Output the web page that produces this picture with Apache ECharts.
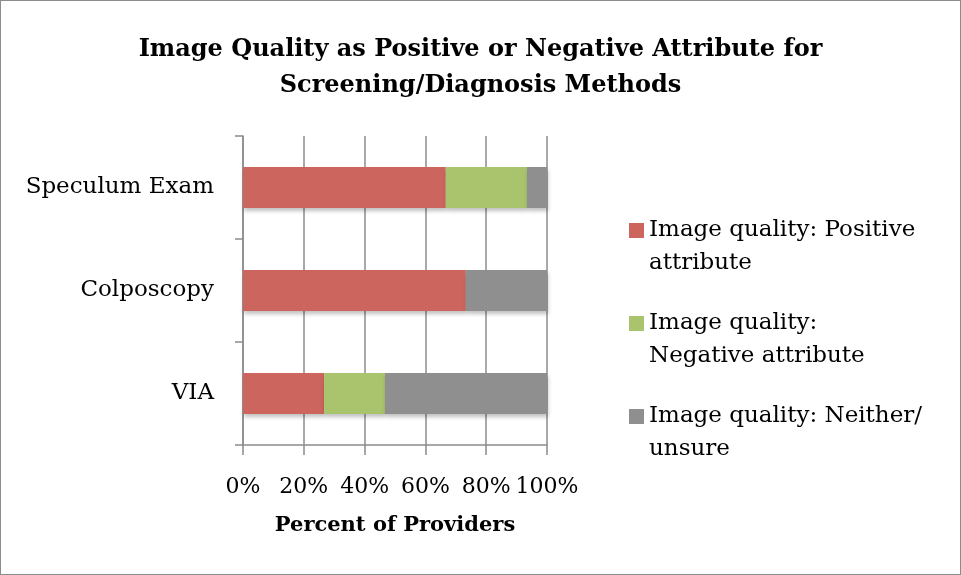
<!DOCTYPE html>
<html>
<head>
<meta charset="utf-8">
<script src="https://cdn.jsdelivr.net/npm/echarts@6/dist/echarts.min.js"></script>
<style>
  html, body { margin: 0; padding: 0; background: #fff; }
  #chart { width: 959px; height: 573px; border: 1px solid #8c8c8c; }
</style>
</head>
<body>
<div id="chart"></div>
<script>
// methods, top to bottom
var methods = ['Speculum Exam', 'Colposcopy', 'VIA'];
var seriesNames = [
  'Image quality: Positive\nattribute',
  'Image quality:\nNegative attribute',
  'Image quality: Neither/\nunsure'
];
// percent of providers
var positive = [66.7, 73.3, 26.7];
var negative = [26.7, 0, 20.0];
var neither = [6.6, 26.7, 53.3];
var xTicks = [0, 20, 40, 60, 80, 100];

var font = 'DejaVu Serif';
var colors = ['#cd655f', '#a9c46c', '#8f8f8f'];
var lineH = 33;

var myChart = echarts.init(document.getElementById('chart'));

function bar(name, data, i) {
  return {
    name: name,
    type: 'bar',
    stack: 'total',
    barCategoryGap: '60%',
    data: data,
    itemStyle: {
      color: colors[i],
      shadowColor: 'rgba(0,0,0,0.25)',
      shadowBlur: 4,
      shadowOffsetX: 1,
      shadowOffsetY: 3
    }
  };
}

myChart.setOption({
  animation: false,
  title: {
    text: 'Image Quality as Positive or Negative Attribute for\nScreening/Diagnosis Methods',
    left: 'center',
    top: 26,
    textStyle: {
      fontFamily: font,
      fontWeight: 'bold',
      fontSize: 24,
      lineHeight: 36,
      color: '#000'
    }
  },
  legend: {
    orient: 'vertical',
    left: 623,
    top: 175,
    icon: 'rect',
    itemWidth: 15,
    itemHeight: 15,
    itemGap: -6,
    textStyle: {
      fontFamily: font,
      fontSize: 23,
      lineHeight: lineH,
      color: '#000'
    },
    // blank first line keeps the square level with the first text line
    formatter: function (name) { return '\n' + name; },
    data: seriesNames
  },
  grid: {
    left: 242,
    right: 413,
    top: 135,
    bottom: 129
  },
  xAxis: {
    type: 'value',
    min: xTicks[0],
    max: xTicks[xTicks.length - 1],
    interval: 20,
    axisLine: { show: true, lineStyle: { color: '#8c8c8c', width: 1.5 } },
    axisTick: { show: true, length: 10, lineStyle: { color: '#8c8c8c', width: 1.5 } },
    splitLine: { show: true, lineStyle: { color: '#8c8c8c', width: 1.5 } },
    axisLabel: {
      formatter: '{value}%',
      margin: 31,
      fontFamily: font,
      fontSize: 22,
      color: '#000'
    },
    name: 'Percent of Providers',
    nameLocation: 'middle',
    nameGap: 70,
    nameTextStyle: {
      fontFamily: font,
      fontWeight: 'bold',
      fontSize: 21,
      color: '#000'
    }
  },
  yAxis: {
    type: 'category',
    inverse: true,
    data: methods,
    axisLine: { show: true, lineStyle: { color: '#8c8c8c', width: 1.5 } },
    axisTick: { show: true, length: 8, lineStyle: { color: '#8c8c8c', width: 1.5 } },
    axisLabel: {
      margin: 29,
      fontFamily: font,
      fontSize: 23,
      color: '#000'
    }
  },
  series: [
    bar(seriesNames[0], positive, 0),
    bar(seriesNames[1], negative, 1),
    bar(seriesNames[2], neither, 2)
  ]
});
</script>
</body>
</html>
